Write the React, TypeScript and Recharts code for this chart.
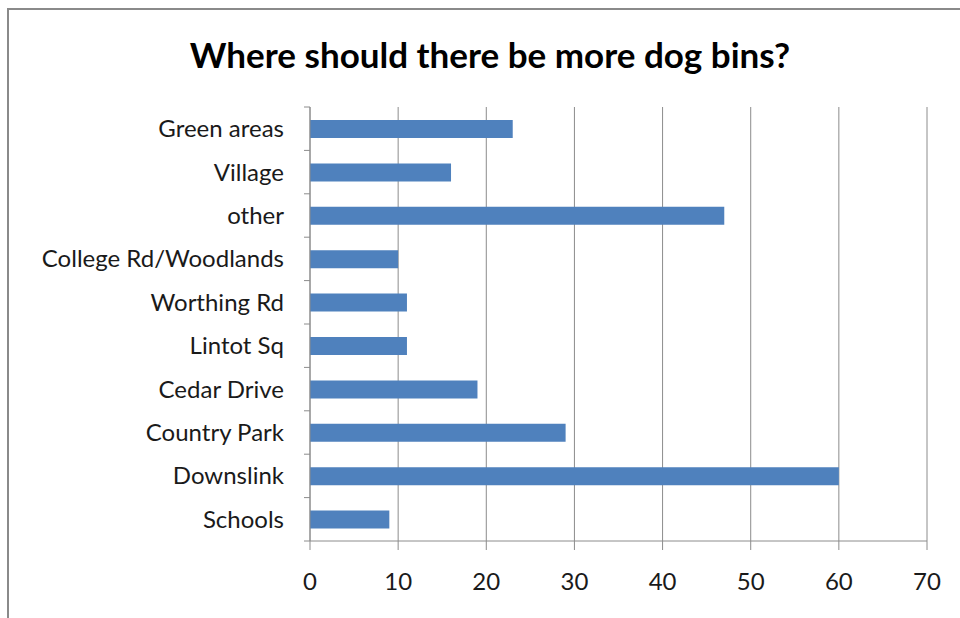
import { BarChart, Bar, XAxis, YAxis, CartesianGrid } from 'recharts';

const categories = [
    'Green areas',
    'Village',
    'other',
    'College Rd/Woodlands',
    'Worthing Rd',
    'Lintot Sq',
    'Cedar Drive',
    'Country Park',
    'Downslink',
    'Schools',
];
const counts = [23, 16, 47, 10, 11, 11, 19, 29, 60, 9];
const xTicks = [0, 10, 20, 30, 40, 50, 60, 70];

const data = categories.map((name, i) => ({ name, value: counts[i] }));

const W = 960;
const H = 618;
const TOP = 107;
const BOTTOM = 77;
const FONT = 'Lato, "Open Sans", sans-serif';
const GREY = '#8c8c8c';
const TEXT = '#1a1a1a';
const band = (H - TOP - BOTTOM) / categories.length;

function CategoryTick(props: any) {
    const { x, y, payload, index } = props;
    const axisX = x + 26;
    const last = index === categories.length - 1;
    return (
        <g>
            <line x1={axisX - 6} x2={axisX} y1={y - band / 2} y2={y - band / 2} stroke={GREY} />
            {last && <line x1={axisX - 6} x2={axisX} y1={y + band / 2} y2={y + band / 2} stroke={GREY} />}
            <text x={x} y={y} dy="0.35em" textAnchor="end" fill={TEXT} fontSize={24} fontFamily={FONT}>
                {payload.value}
            </text>
        </g>
    );
}

export default function App() {
    return (
        <div style={{ position: 'absolute', left: 0, top: 0, width: W, height: H, background: '#fff', overflow: 'hidden' }}>
            <div
                style={{
                    position: 'absolute',
                    left: 7,
                    top: 8,
                    width: W,
                    height: 700,
                    borderLeft: '2px solid #8a8a8a',
                    borderTop: '2px solid #8a8a8a',
                }}
            />
            <div
                style={{
                    position: 'absolute',
                    left: 0,
                    top: 33,
                    width: 980,
                    textAlign: 'center',
                    fontFamily: FONT,
                    fontWeight: 700,
                    fontSize: 35,
                    lineHeight: '42px',
                    color: '#000',
                }}
            >
                Where should there be more dog bins?
            </div>
            <div style={{ position: 'absolute', left: 0, top: 0 }}>
                <BarChart
                    width={W}
                    height={H}
                    data={data}
                    layout="vertical"
                    margin={{ top: TOP, right: 33, bottom: 0, left: 0 }}
                    barSize={18}
                >
                    <CartesianGrid horizontal={false} stroke={GREY} />
                    <XAxis
                        type="number"
                        domain={[0, 70]}
                        ticks={xTicks}
                        interval={0}
                        height={BOTTOM}
                        stroke={GREY}
                        tickSize={9}
                        tickMargin={23}
                        tick={{ fill: TEXT, fontSize: 24, fontFamily: FONT }}
                    />
                    <YAxis
                        type="category"
                        dataKey="name"
                        width={310}
                        stroke={GREY}
                        tickLine={false}
                        tickSize={0}
                        tickMargin={26}
                        interval={0}
                        tick={<CategoryTick />}
                    />
                    <Bar dataKey="value" fill="#4f81bd" isAnimationActive={false} />
                </BarChart>
            </div>
        </div>
    );
}
